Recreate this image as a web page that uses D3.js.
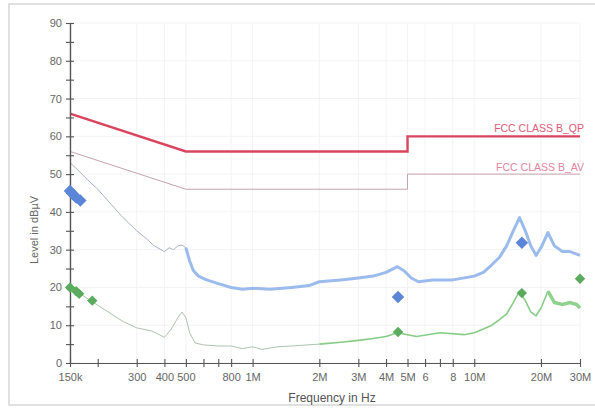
<!DOCTYPE html>
<html>
<head>
<meta charset="utf-8">
<script src="https://cdn.jsdelivr.net/npm/d3@7"></script>
<style>
  html, body { margin: 0; padding: 0; background: #fff; }
  svg { display: block; font-family: "Liberation Sans", Arial, sans-serif; }
</style>
</head>
<body>
<svg id="chart" width="595" height="410"></svg>
<script>
// ---------- data ----------
const yTicksMajor = [0, 10, 20, 30, 40, 50, 60, 70, 80, 90];
const yTicksMinor = [5, 15, 25, 35, 45, 55, 65, 75, 85];
const xTicks = [150e3, 200e3, 300e3, 400e3, 500e3, 600e3, 700e3, 800e3, 1e6, 2e6, 3e6, 4e6, 5e6, 6e6, 7e6, 8e6, 10e6, 20e6, 30e6];
const xTickLabels = {150e3: "150k", 300e3: "300", 400e3: "400", 500e3: "500", 800e3: "800", 1e6: "1M", 2e6: "2M", 3e6: "3M", 4e6: "4M", 5e6: "5M", 6e6: "6", 8e6: "8", 10e6: "10M", 20e6: "20M", 30e6: "30M"};

// Limit lines (frequency Hz, dBuV)
const limitQPFreq = [150e3, 500e3, 5e6, 5e6, 30e6];
const limitQPLevel = [66, 56, 56, 60, 60];
const limitAVFreq = [150e3, 500e3, 5e6, 5e6, 30e6];
const limitAVLevel = [56, 46, 46, 50, 50];

// Peak scan trace (blue)
const peakFreq = [150e3, 160e3, 180e3, 200e3, 230e3, 260e3, 300e3, 330e3, 360e3, 400e3, 420e3, 440e3, 460e3, 480e3, 500e3,
  520e3, 540e3, 570e3, 620e3, 700e3, 800e3, 900e3, 1.0e6, 1.2e6, 1.5e6, 1.8e6, 2.0e6, 2.5e6, 3.0e6, 3.5e6, 4.0e6, 4.5e6,
  4.8e6, 5.2e6, 5.6e6, 6.5e6, 8e6, 10e6, 11e6, 12e6, 13e6, 14e6, 15e6, 16e6, 17e6, 18e6, 19e6, 20e6, 21.5e6, 23e6, 25e6, 27e6, 30e6];
const peakLevel = [53, 51.5, 48.5, 46, 42, 38.5, 35, 33, 31, 29.5, 30.5, 30, 31, 31.2, 30.5,
  27, 24.5, 23, 22, 21, 20, 19.5, 19.8, 19.5, 20, 20.5, 21.5, 22, 22.5, 23, 24, 25.5,
  24.5, 22.5, 21.5, 22, 22, 23, 24, 26, 28, 31, 35, 38.5, 35, 31, 28.5, 30.5, 34.5, 31, 29.5, 29.5, 28.5];

// Average scan trace (green)
const avgFreq = [150e3, 170e3, 200e3, 230e3, 260e3, 300e3, 350e3, 400e3, 430e3, 460e3, 480e3, 500e3, 520e3, 550e3,
  600e3, 700e3, 800e3, 900e3, 1.0e6, 1.1e6, 1.3e6, 1.5e6, 2.0e6, 2.5e6, 3.0e6, 3.5e6, 4.0e6, 4.5e6, 5.0e6, 5.5e6, 7e6,
  9e6, 10e6, 11e6, 12e6, 13e6, 14e6, 15e6, 16e6, 17e6, 18e6, 19e6, 20e6, 21.5e6, 23e6, 25e6, 27e6, 29e6, 30e6];
const avgLevel = [20, 18, 15.3, 13, 11, 9.3, 8.5, 6.8, 9, 12, 13.5, 12, 8, 5.3,
  4.8, 4.5, 4.5, 3.8, 4.3, 3.6, 4.3, 4.5, 5, 5.5, 6, 6.5, 7, 8, 7.5, 7, 8,
  7.5, 8, 9, 10, 11.5, 13, 16, 19, 16.5, 13.5, 12.5, 14.5, 19, 16, 15.5, 16, 15.5, 14.5];

// Final measurement markers
const qpFreq = [150e3, 155e3, 160e3, 167e3, 4.53e6, 16.4e6];
const qpLevel = [45.5, 44.6, 43.8, 43, 17.5, 31.8];
const avFreq = [150e3, 160e3, 165e3, 189e3, 4.53e6, 16.4e6, 30e6];
const avLevel = [20, 19, 18.3, 16.5, 8.2, 18.5, 22.3];

const limitLabels = ["FCC CLASS B_QP", "FCC CLASS B_AV"];

// ---------- drawing ----------
const svg = d3.select("#chart");
const x = d3.scaleLog().domain([150e3, 30e6]).range([70, 580]);
const y = d3.scaleLinear().domain([0, 90]).range([363, 23]);

// outer frame
svg.append("rect").attr("x", 9).attr("y", 4).attr("width", 600).attr("height", 401)
  .attr("fill", "#fff").attr("stroke", "#d6d6d6").attr("stroke-width", 1.5);

// faint grid
const grid = svg.append("g");
grid.selectAll("line.v").data(xTicks.filter(d => xTickLabels[d])).join("line")
  .attr("x1", d => x(d)).attr("x2", d => x(d)).attr("y1", y(90)).attr("y2", y(0))
  .attr("stroke", "#f3f3f3");
grid.selectAll("line.h").data(yTicksMajor).join("line")
  .attr("x1", x(150e3)).attr("x2", x(30e6)).attr("y1", d => y(d)).attr("y2", d => y(d))
  .attr("stroke", "#f3f3f3");

const line = d3.line().x(d => x(d[0])).y(d => y(d[1]));
const zipF = (f, v) => f.map((d, i) => [d, v[i]]);

// limit lines
svg.append("path").datum(zipF(limitAVFreq, limitAVLevel)).attr("d", line)
  .attr("fill", "none").attr("stroke", "#c7a3ac").attr("stroke-width", 1);
svg.append("path").datum(zipF(limitQPFreq, limitQPLevel)).attr("d", line)
  .attr("fill", "none").attr("stroke", "#d9455f").attr("stroke-width", 2.4);

// blue trace in pieces of differing thickness
const peak = zipF(peakFreq, peakLevel);
const seg = (arr, lo, hi) => arr.filter(d => d[0] >= lo && d[0] <= hi);
svg.append("path").datum(seg(peak, 150e3, 520e3)).attr("d", line)
  .attr("fill", "none").attr("stroke", "#a9b2c2").attr("stroke-width", 1);
svg.append("path").datum(seg(peak, 500e3, 30e6)).attr("d", line)
  .attr("fill", "none").attr("stroke", "#9bbbec").attr("stroke-width", 3).attr("stroke-linejoin", "round");

// green trace
const avg = zipF(avgFreq, avgLevel);
svg.append("path").datum(seg(avg, 150e3, 2e6)).attr("d", line)
  .attr("fill", "none").attr("stroke", "#adc3ae").attr("stroke-width", 1);
svg.append("path").datum(seg(avg, 2e6, 22e6)).attr("d", line)
  .attr("fill", "none").attr("stroke", "#86cc84").attr("stroke-width", 1.6);
svg.append("path").datum(seg(avg, 21.5e6, 30e6)).attr("d", line)
  .attr("fill", "none").attr("stroke", "#8fd28d").attr("stroke-width", 3.5);

// axes (crossing ticks)
const axColor = "#555";
function styleAxis(g) {
  g.select(".domain").attr("stroke", axColor).attr("stroke-width", 1.2);
  g.selectAll(".tick line").attr("stroke", axColor).attr("stroke-width", 1.1);
  g.selectAll("text").attr("fill", "#666").style("font-size", "11px")
   .style("font-family", "'Liberation Sans', Arial, sans-serif");
}
const xb = svg.append("g").attr("transform", `translate(0,${y(0)})`)
  .call(d3.axisBottom(x).tickValues(xTicks).tickSizeInner(4).tickSizeOuter(0)
    .tickPadding(6).tickFormat(d => xTickLabels[d] || ""));
styleAxis(xb);
const xt = svg.append("g").attr("transform", `translate(0,${y(0)})`)
  .call(d3.axisTop(x).tickValues(xTicks).tickSizeInner(4).tickSizeOuter(0).tickFormat(""));
styleAxis(xt);

const yl = svg.append("g").attr("transform", `translate(${x(150e3)},0)`)
  .call(d3.axisLeft(y).tickValues(yTicksMajor.concat(yTicksMinor)).tickSizeInner(4).tickSizeOuter(0)
    .tickPadding(4).tickFormat(d => yTicksMajor.includes(d) ? d : ""));
styleAxis(yl);
const yr = svg.append("g").attr("transform", `translate(${x(150e3)},0)`)
  .call(d3.axisRight(y).tickValues(yTicksMajor.concat(yTicksMinor)).tickSizeInner(4).tickSizeOuter(0).tickFormat(""));
styleAxis(yr);

// markers
const diamond = (s) => d3.symbol(d3.symbolSquare, s);
svg.append("g").selectAll("path").data(zipF(qpFreq, qpLevel)).join("path")
  .attr("d", diamond(78)())
  .attr("transform", d => `translate(${x(d[0])},${y(d[1])}) rotate(45)`)
  .attr("fill", "#5b86d8");
svg.append("g").selectAll("path").data(zipF(avFreq, avLevel)).join("path")
  .attr("d", diamond(54)())
  .attr("transform", d => `translate(${x(d[0])},${y(d[1])}) rotate(45)`)
  .attr("fill", "#5aab5e");

// limit labels
svg.append("text").attr("x", 584).attr("y", y(60) - 4).attr("text-anchor", "end")
  .attr("fill", "#dc5a7a").style("font-size", "10.5px").text(limitLabels[0]);
svg.append("text").attr("x", 584).attr("y", y(50) - 3).attr("text-anchor", "end")
  .attr("fill", "#e283a0").style("font-size", "10.5px").text(limitLabels[1]);

// axis titles
svg.append("text").attr("x", 332).attr("y", 402).attr("text-anchor", "middle")
  .attr("fill", "#555").style("font-size", "12px").text("Frequency in Hz");
svg.append("text").attr("transform", "translate(38,230) rotate(-90)").attr("text-anchor", "middle")
  .attr("fill", "#666").style("font-size", "11px").text("Level in dBµV");
</script>
</body>
</html>
